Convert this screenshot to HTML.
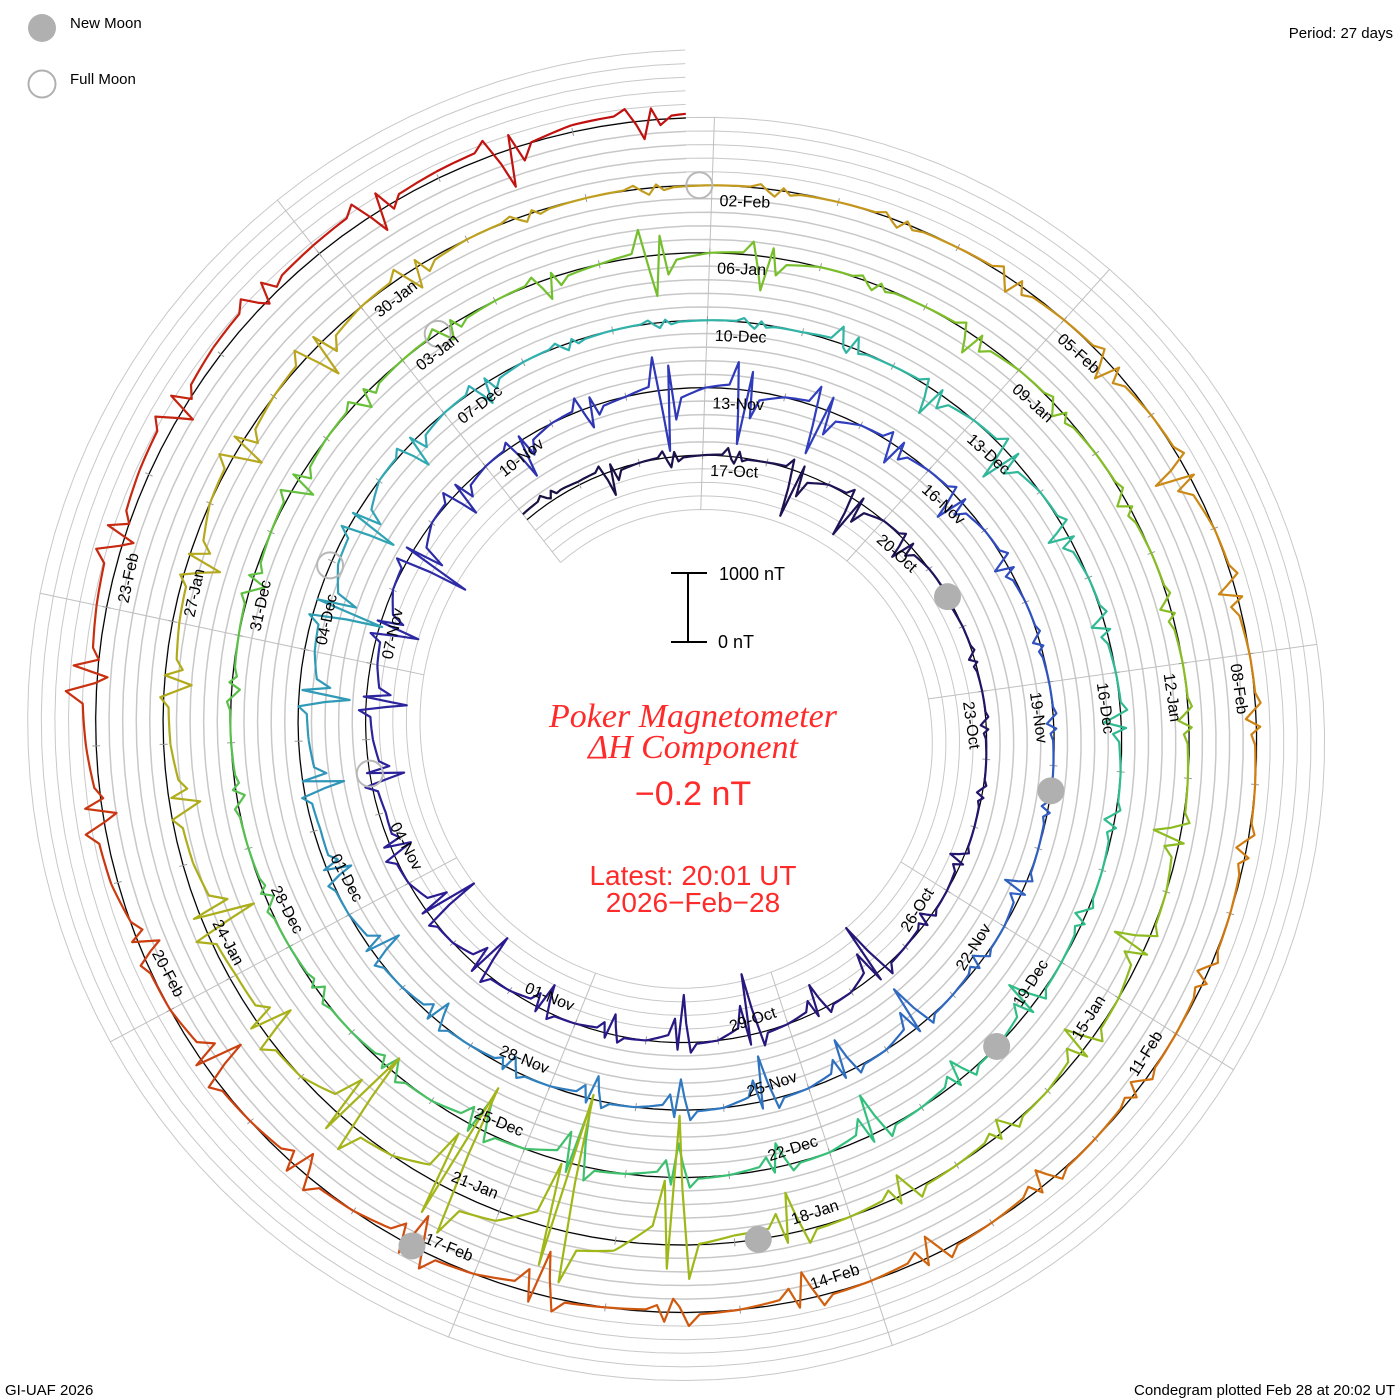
<!DOCTYPE html>
<html><head><meta charset="utf-8"><title>Poker Magnetometer Condegram</title>
<style>
html,body{margin:0;padding:0;background:#fff;}
svg{display:block;font-family:"Liberation Sans",sans-serif;}
</style></head>
<body>
<svg id="chart" xmlns="http://www.w3.org/2000/svg" width="1400" height="1400" viewBox="0 0 1400 1400">
  <rect width="1400" height="1400" fill="#fff"/>
  <g id="grid"></g>
  <g id="radials"></g>
  <g id="baseline"></g>
  <g id="ticks"></g>
  <g id="trace"></g>
  <g id="moons"></g>
  <g id="labels" font-size="16" fill="#000"></g>

  <g>
    <circle cx="42" cy="28" r="14" fill="#b0b0b0"/>
    <text x="70" y="28" font-size="15">New Moon</text>
    <circle cx="42" cy="84" r="13.5" fill="none" stroke="#b0b0b0" stroke-width="2"/>
    <text x="70" y="84" font-size="15">Full Moon</text>
  </g>
  <text x="1393" y="38" font-size="15" text-anchor="end">Period: 27 days</text>
  <text x="5" y="1395" font-size="15">GI-UAF 2026</text>
  <text x="1395" y="1395" font-size="15" text-anchor="end">Condegram plotted Feb 28 at 20:02 UT</text>

  <g stroke="#000" stroke-width="2">
    <line x1="688" y1="573" x2="688" y2="642"/>
    <line x1="671" y1="573" x2="707" y2="573"/>
    <line x1="671" y1="642" x2="707" y2="642"/>
  </g>
  <text x="719" y="580" font-size="18">1000 nT</text>
  <text x="718" y="648" font-size="18">0 nT</text>

  <g fill="#ff2a2a" text-anchor="middle">
    <text x="693" y="727" font-size="34" font-style="italic" font-family="Liberation Serif, serif">Poker Magnetometer</text>
    <text x="693" y="758" font-size="34" font-style="italic" font-family="Liberation Serif, serif">ΔH Component</text>
    <text x="693" y="805" font-size="34">−0.2 nT</text>
    <text x="693" y="885" font-size="28">Latest: 20:01 UT</text>
    <text x="693" y="912" font-size="28">2026−Feb−28</text>
  </g>
</svg>
<script>
// Daily maximum (outward) and minimum (inward) deviation of ΔH in nT, day 0 = 2025-10-14
const dayHi = [60,80,100,120,150,120,80,60,40,40,40,50,60,150,100,200,150,100,100,150,
 100,150,200,200,200,150,150,100,200,500,400,300,150,100,100,50,50,50,80,60,
 100,100,150,150,100,80,100,100,80,150,150,200,200,100,100,60,50,60,250,100,
 150,100,80,100,60,60,100,100,150,100,150,200,150,100,60,60,60,60,100,150,
 100,100,100,400,200,60,100,60,60,60,60,100,100,150,100,150,200,600,600,500,
 400,200,300,150,150,150,200,200,150,60,60,60,60,100,100,100,100,80,80,80,
 80,100,150,150,200,200,250,200,150,100,200,300,200,150,150,150,150,100];
const dayLo = [-60,-400,-150,-100,-700,-600,-300,-150,-80,-80,-80,-200,-150,-800,-400,-900,-700,-300,-400,-600,
 -800,-300,-400,-500,-500,-950,-400,-560,-300,-900,-800,-700,-300,-400,-200,-100,-100,-100,-300,-150,
 -650,-500,-660,-450,-350,-200,-300,-450,-350,-500,-600,-880,-600,-400,-300,-100,-80,-80,-100,-400,
 -500,-300,-200,-250,-150,-150,-450,-300,-600,-350,-500,-900,-500,-200,-120,-120,-120,-120,-200,-300,
 -200,-200,-300,-600,-500,-100,-300,-150,-150,-150,-150,-400,-500,-400,-200,-300,-600,-1800,-2200,-1800,
 -1200,-500,-700,-300,-300,-400,-400,-500,-300,-100,-100,-100,-100,-200,-300,-500,-250,-150,-150,-150,
 -150,-250,-300,-400,-200,-650,-500,-300,-600,-300,-300,-300,-300,-350,-200,-450,-650,-370];
// Daily mean level offsets (nT), mostly near zero
const dayMean = [100,50,0,0,0,0,0,0,0,0,0,0,0,0,0,0,0,0,0,0,
 0,0,-100,-100,-100,0,0,0,0,0,0,0,0,0,0,0,0,0,0,0,
 0,0,0,0,0,0,0,0,0,-100,-150,-150,-100,0,0,0,0,0,0,0,
 0,0,0,0,0,0,0,0,0,0,0,0,0,0,0,0,0,0,0,0,
 0,0,0,0,0,0,0,0,0,0,0,0,0,0,0,0,0,-100,150,150,
 0,0,-100,-150,-100,-100,0,0,0,0,0,0,0,0,0,0,0,0,0,0,
 0,0,0,0,0,0,0,0,0,0,100,150,150,150,150,150,100,100];
const newMoonDays = [7.5, 37.3, 67.05, 96.8, 126.5];
const fullMoonDays = [22.55, 51.95, 81.4, 110.9];
const colorStopDays = [0, 20, 32, 45, 55, 68, 82, 98, 110, 118, 126, 137];
const colorStopHex = ["#1a1040","#2a1a90","#3040c0","#3080c0","#30b0b0","#30c080","#70c030","#a0b818","#c0a020","#d08010","#d05010","#c01010"];

const NS = "http://www.w3.org/2000/svg";
const CX = 693, CY = 732, R0 = 269.5, RATE = 2.5, PXNT = 68/1000, END_D = 137.83, RING = 13.6;
function angOf(d){ return (-88 + (d-3)*360/27) * Math.PI/180; }
function pt(d, off){ const a = angOf(d), r = R0 + RATE*d + off; return [CX + r*Math.cos(a), CY + r*Math.sin(a)]; }
function mk(tag, attrs, parent){ const e = document.createElementNS(NS, tag); for (const k in attrs) e.setAttribute(k, attrs[k]); parent.appendChild(e); return e; }
function hex2(c){ return [parseInt(c.slice(1,3),16),parseInt(c.slice(3,5),16),parseInt(c.slice(5,7),16)]; }
function colorAt(d){
  for (let i=0;i<colorStopDays.length-1;i++){
    if (d <= colorStopDays[i+1]){
      const t = (d-colorStopDays[i])/(colorStopDays[i+1]-colorStopDays[i]);
      const a = hex2(colorStopHex[i]), b = hex2(colorStopHex[i+1]);
      return "rgb(" + a.map((v,j)=>Math.round(v+(b[j]-v)*t)).join(",") + ")";
    }
  }
  return colorStopHex[colorStopHex.length-1];
}

const grid = document.getElementById("grid");
for (let k=-4;k<=5;k++){
  let s = "";
  for (let d=0; d<=END_D; d+=0.2){ const p = pt(d, k*RING); s += (s?"L":"M") + p[0].toFixed(1) + "," + p[1].toFixed(1); }
  const e = mk("path", {d:s, fill:"none", stroke:"#c8c8c8", "stroke-width":1}, grid);
  
  
}

const radials = document.getElementById("radials");
for (let d0=3; d0<30; d0+=3){
  let first = d0; while (first-27 >= 0) first -= 27;
  let last = d0; while (last+27 <= END_D) last += 27;
  const p1 = pt(first, -4*RING), p2 = pt(last, 5*RING);
  const e = mk("line", {x1:p1[0], y1:p1[1], x2:p2[0], y2:p2[1], stroke:"#c0c0c0", "stroke-width":1}, radials);
  
  
}

{
  let s = "";
  for (let d=0; d<=END_D; d+=0.2){ const p = pt(d,0); s += (s?"L":"M") + p[0].toFixed(1) + "," + p[1].toFixed(1); }
  const e = mk("path", {d:s, fill:"none", stroke:"#000", "stroke-width":1.2}, document.getElementById("baseline"));
  
  
}

const ticks = document.getElementById("ticks");
for (let d=1; d<END_D; d++){
  const a = pt(d,-4), b = pt(d,4);
  const e = mk("line", {x1:a[0], y1:a[1], x2:b[0], y2:b[1], stroke:"#999", "stroke-width":1}, ticks);
  
  
}

// data trace: mean level plus a narrow disturbance each day
const trace = document.getElementById("trace");
const profF = [0, 0.3, 0.38, 0.45, 0.5, 0.56, 0.62, 0.7, 1.0];
function meanAt(d){
  const i = Math.min(Math.floor(d), dayMean.length-1), j = Math.min(i+1, dayMean.length-1);
  const f = d - Math.floor(d);
  const m0 = dayMean[i], m1 = dayMean[j];
  return f < 0.5 ? m0 : m0 + (m1-m0)*(f-0.5)*2;
}
for (let i=0;i<dayHi.length;i++){
  const hi = dayHi[i], lo = dayLo[i];
  const q = 0.15;
  const prof = [0, q*hi, hi, 0.4*lo, lo, 0.7*hi, 0.5*lo, q*lo, 0];
  let s = "";
  for (let j=0;j<profF.length-1;j++){
    const steps = (profF[j+1]-profF[j]) > 0.2 ? 6 : 1;
    for (let k=0;k<steps;k++){
      const f = profF[j] + (profF[j+1]-profF[j])*k/steps;
      const d = i + f;
      if (d > END_D) break;
      const v = meanAt(d) + prof[j] + (prof[j+1]-prof[j])*k/steps;
      const p = pt(d, v*PXNT);
      s += (s?"L":"M") + p[0].toFixed(1) + "," + p[1].toFixed(1);
    }
  }
  if (i+1 <= END_D){ const p = pt(i+1, meanAt(i+1)*PXNT); s += "L" + p[0].toFixed(1) + "," + p[1].toFixed(1); }
  const e = mk("path", {d:s, fill:"none", stroke:colorAt(i+0.5), "stroke-width":2.2, "stroke-linejoin":"round"}, trace);
  
  
}

const moons = document.getElementById("moons");
newMoonDays.forEach(d=>{
  const p = pt(d,0);
  const e = mk("circle", {cx:p[0], cy:p[1], r:13.5, fill:"#b0b0b0"}, moons);
  
  
});
fullMoonDays.forEach(d=>{
  const p = pt(d,0);
  const e = mk("circle", {cx:p[0], cy:p[1], r:13, fill:"none", stroke:"#b8b8b8", "stroke-width":2}, moons);
  
  
});

const labels = document.getElementById("labels");
const MONTHS = ["Jan","Feb","Mar","Apr","May","Jun","Jul","Aug","Sep","Oct","Nov","Dec"];
const START = Date.UTC(2025,9,14);
for (let d=3; d<=132; d+=3){
  const dt = new Date(START + d*86400000);
  const txt = String(dt.getUTCDate()).padStart(2,"0") + "-" + MONTHS[dt.getUTCMonth()];
  const aDeg = -88 + (d-3)*360/27;
  let rot = ((aDeg + 90) % 360 + 360) % 360;
  let flipped = false;
  if (rot > 90 && rot < 270){ rot -= 180; flipped = true; }
  const p = pt(d, -8);
  const e = mk("text", {x:0, y:0, "font-size":16,
    "text-anchor": flipped ? "end" : "start",
    "dominant-baseline": flipped ? "auto" : "hanging",
    transform:"translate(" + p[0].toFixed(1) + "," + p[1].toFixed(1) + ") rotate(" + rot.toFixed(1) + ") translate(" + (flipped?-8:8) + "," + (flipped?-2:2) + ")"}, labels);
  e.textContent = txt;
  
  
}
</script>
</body></html>
